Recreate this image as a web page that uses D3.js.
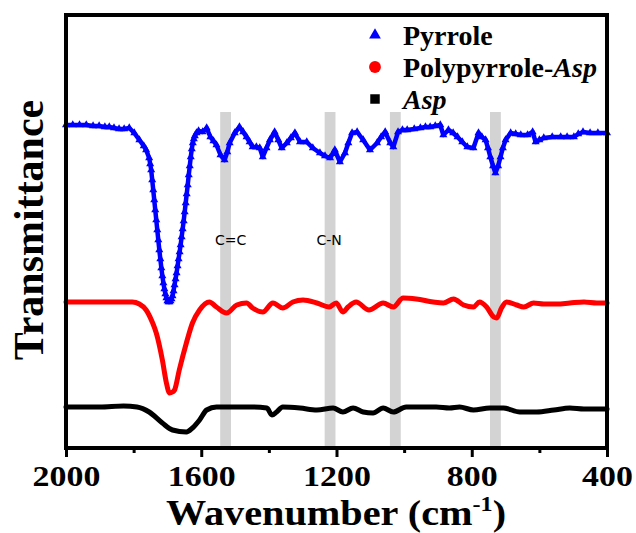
<!DOCTYPE html>
<html>
<head>
<meta charset="utf-8">
<script src="https://cdn.jsdelivr.net/npm/d3@7"></script>
<style>
  body { margin: 0; background: #fff; }
  svg { display: block; }
  .serif { font-family: "Liberation Serif", "Times New Roman", "DejaVu Serif", serif; font-weight: bold; }
</style>
</head>
<body>
<svg id="chart"></svg>
<script>
// FTIR spectra, wavenumber (cm-1) vs transmittance (arbitrary offset units)
const pyrrole = [
  [2000,323],[1980,323],[1960,323],[1940,323],[1920,322],[1902,322],[1885,321],[1872,321],[1858,320],[1843,319],
  [1828,319],[1813,320],[1798,315],[1783,308],[1770,302],[1763,298],[1754,290],
  [1751,284],[1748,278],[1745,268],[1742,258],[1739,248],[1736,238],[1733,228],[1730,218],[1727,208],[1724,198],
  [1721,189],[1718,180],[1715,172],[1712,165],[1709,159],[1706,154],[1703,150],[1700,147],[1697,146],[1694,146],
  [1691,147],[1688,149],[1685,152],[1682,157],[1679,163],[1676,169],[1673,175],[1670,182],[1667,189],[1664,196],
  [1661,203],[1658,211],[1655,219],[1652,227],[1649,236],[1646,245],[1643,254],[1640,263],[1637,273],[1634,282],
  [1631,291],[1628,299],[1625,305],[1622,309],[1619,312],[1614,315],[1608,317],
  [1596,316],[1584,320],[1573,311],[1564,307],[1555,303],[1543,293],[1531,288],[1523,296],[1516,305],[1501,315],
  [1487,321],[1476,316],[1466,311],[1457,306],[1448,301],[1437,301],[1427,300],[1418,291],[1407,300],[1397,308],
  [1383,316],[1372,308],[1362,300],[1347,305],[1335,310],[1323,315],[1308,306],[1288,306],[1270,300],[1249,295],
  [1234,292],[1219,290],[1205,298],[1190,286],[1175,295],[1165,305],[1154,315],[1139,316],[1121,308],[1101,298],
  [1080,305],[1068,311],[1056,316],[1041,305],[1032,301],[1018,316],[1005,318],[991,318],[970,319],[952,320],
  [937,321],[923,321],[908,322],[893,323],[884,313],[869,318],[855,315],[842,311],[828,306],[813,301],
  [795,300],[780,315],[770,311],[759,308],[752,300],[745,291],[737,282],[730,275],[722,282],[715,291],
  [708,300],[700,308],[685,315],[670,314],[655,313],[635,313],[620,316],[611,306],[600,308],[587,310],
  [562,311],[537,311],[518,311],[498,311],[485,314],[471,316],[450,315],[427,315],[400,315]
];

const polypyrroleAsp = [
  [2000,146],[1950,146],[1900,146],[1850,146],[1804,146],[1783,144],[1763,138],[1745,126],[1733,115],[1715,88],
  [1703,65],[1694,55],[1685,56],[1679,58],[1665,78],[1644,105],[1626,125],[1605,138],[1576,146],[1555,141],
  [1525,135],[1495,143],[1466,145],[1448,140],[1418,136],[1388,145],[1359,140],[1329,146],[1299,148],[1258,145],
  [1222,141],[1201,145],[1181,136],[1166,141],[1142,146],[1104,138],[1062,145],[1032,141],[1003,150],[964,149],
  [914,146],[884,145],[854,149],[824,143],[795,141],[777,146],[756,141],[735,131],[726,130],[712,140],
  [697,146],[667,143],[646,141],[617,145],[587,144],[548,144],[510,145],[468,146],[430,145],[400,145]
];

const asp = [
  [2000,41],[1900,41],[1830,42],[1790,41],[1754,36],[1715,25],[1685,18],[1644,16],[1626,20],[1605,28],[1584,38],
  [1555,41],[1507,41],[1448,41],[1406,40],[1391,33],[1377,36],[1359,41],[1308,40],[1258,38],[1210,40],
  [1181,36],[1151,40],[1121,36],[1092,35],[1062,40],[1032,36],[994,41],[943,41],[905,41],[866,40],
  [836,41],[795,38],[747,40],[706,40],[658,36],[608,36],[557,38],[510,40],[468,39],[400,39]
];

const bandCenters = [1528, 1219, 1026, 730];
const bandLabels = ["C=C", "C-N"];
const bandLabelWn = [1513, 1222];
const majorTicks = [2000, 1600, 1200, 800, 400];
const minorTicks = [1800, 1400, 1000, 600];

const W = 636, H = 533;
const mLeft = 66, mRight = 607, mTop = 15, mBottom = 448;

const svg = d3.select("#chart").attr("width", W).attr("height", H);

const x = d3.scaleLinear().domain([2000, 400]).range([mLeft, mRight]);
const y = d3.scaleLinear().domain([0, 433]).range([mBottom, mTop]);

// grey marker bands
svg.append("g").selectAll("rect").data(bandCenters).enter().append("rect")
  .attr("x", d => x(d + 16)).attr("width", d => x(d - 16) - x(d + 16))
  .attr("y", y(336)).attr("height", mBottom - y(336))
  .attr("fill", "#d3d3d3");

svg.append("g").selectAll("text").data(bandLabels).enter().append("text")
  .attr("x", (d, i) => x(bandLabelWn[i])).attr("y", y(203))
  .attr("text-anchor", "middle")
  .style("font-family", "'DejaVu Sans', sans-serif").style("font-size", "14px")
  .text(d => d);

// curves
const line = d3.line().x(d => x(d[0])).y(d => y(d[1]));
const smooth = d3.line().x(d => x(d[0])).y(d => y(d[1])).curve(d3.curveMonotoneX);

svg.append("path").datum(asp).attr("d", smooth)
  .attr("fill", "none").attr("stroke", "#000").attr("stroke-width", 5)
  .attr("stroke-linejoin", "round").attr("stroke-linecap", "round");

svg.append("path").datum(polypyrroleAsp).attr("d", smooth)
  .attr("fill", "none").attr("stroke", "#ff0000").attr("stroke-width", 5)
  .attr("stroke-linejoin", "round").attr("stroke-linecap", "round");

svg.append("path").datum(pyrrole).attr("d", line)
  .attr("fill", "none").attr("stroke", "#0000ff").attr("stroke-width", 4.5)
  .attr("stroke-linejoin", "round");

svg.append("g").selectAll("path").data(pyrrole).enter().append("path")
  .attr("d", d3.symbol().type(d3.symbolTriangle).size(28))
  .attr("transform", d => `translate(${x(d[0])},${y(d[1])})`)
  .attr("fill", "#0000ff");

// frame
svg.append("rect").attr("x", mLeft).attr("y", mTop)
  .attr("width", mRight - mLeft).attr("height", mBottom - mTop)
  .attr("fill", "none").attr("stroke", "#000").attr("stroke-width", 4);

// x axis
const xAxis = svg.append("g").attr("transform", `translate(0,${mBottom})`)
  .call(d3.axisBottom(x).tickValues(majorTicks).tickSize(9).tickSizeOuter(0).tickFormat(d3.format("d")));
xAxis.select(".domain").remove();
xAxis.selectAll("line").attr("stroke-width", 3);
xAxis.selectAll("text").attr("y", null).attr("dy", null)
  .attr("transform", "translate(0,38) scale(1.13,1)")
  .attr("class", "serif").style("font-size", "30px");
xAxis.attr("font-family", null).attr("font-size", null);

const xMinor = svg.append("g").attr("transform", `translate(0,${mBottom})`)
  .call(d3.axisBottom(x).tickValues(minorTicks).tickSize(5).tickSizeOuter(0).tickFormat(""));
xMinor.select(".domain").remove();
xMinor.selectAll("line").attr("stroke-width", 3);

// axis titles
const xt = svg.append("text").attr("class", "serif")
  .attr("transform", "translate(336,525) scale(1.15,1)").attr("text-anchor", "middle")
  .style("font-size", "35px");
xt.append("tspan").text("Wavenumber (cm");
xt.append("tspan").attr("dy", -14).style("font-size", "21px").text("-1");
xt.append("tspan").attr("dy", 14).text(")");

svg.append("text").attr("class", "serif")
  .attr("transform", "translate(43,230) rotate(-90)")
  .attr("text-anchor", "middle")
  .style("font-size", "42px")
  .text("Transmittance");

// legend
const legendNames = ["Pyrrole", "Polypyrrole-", "Asp"];
const legendItalic = ["", "Asp", ""];
const legendColors = ["#0000ff", "#ff0000", "#000000"];
const legendSymbols = [d3.symbolTriangle, d3.symbolCircle, d3.symbolSquare];
const legendSizes = [60, 110, 90];
const legendRows = [35, 67, 99];

const lg = svg.append("g");
lg.selectAll("path").data(legendNames).enter().append("path")
  .attr("d", (d, i) => d3.symbol().type(legendSymbols[i]).size(legendSizes[i])())
  .attr("transform", (d, i) => `translate(375,${legendRows[i]})`)
  .attr("fill", (d, i) => legendColors[i]);

const lt = lg.selectAll("text").data(legendNames).enter().append("text")
  .attr("class", "serif")
  .attr("x", 403).attr("y", (d, i) => legendRows[i] + 10)
  .style("font-size", "28px");
lt.append("tspan").style("font-style", (d, i) => i === 2 ? "italic" : "normal").text(d => d);
lt.append("tspan").style("font-style", "italic").text((d, i) => legendItalic[i]);
</script>
</body>
</html>
